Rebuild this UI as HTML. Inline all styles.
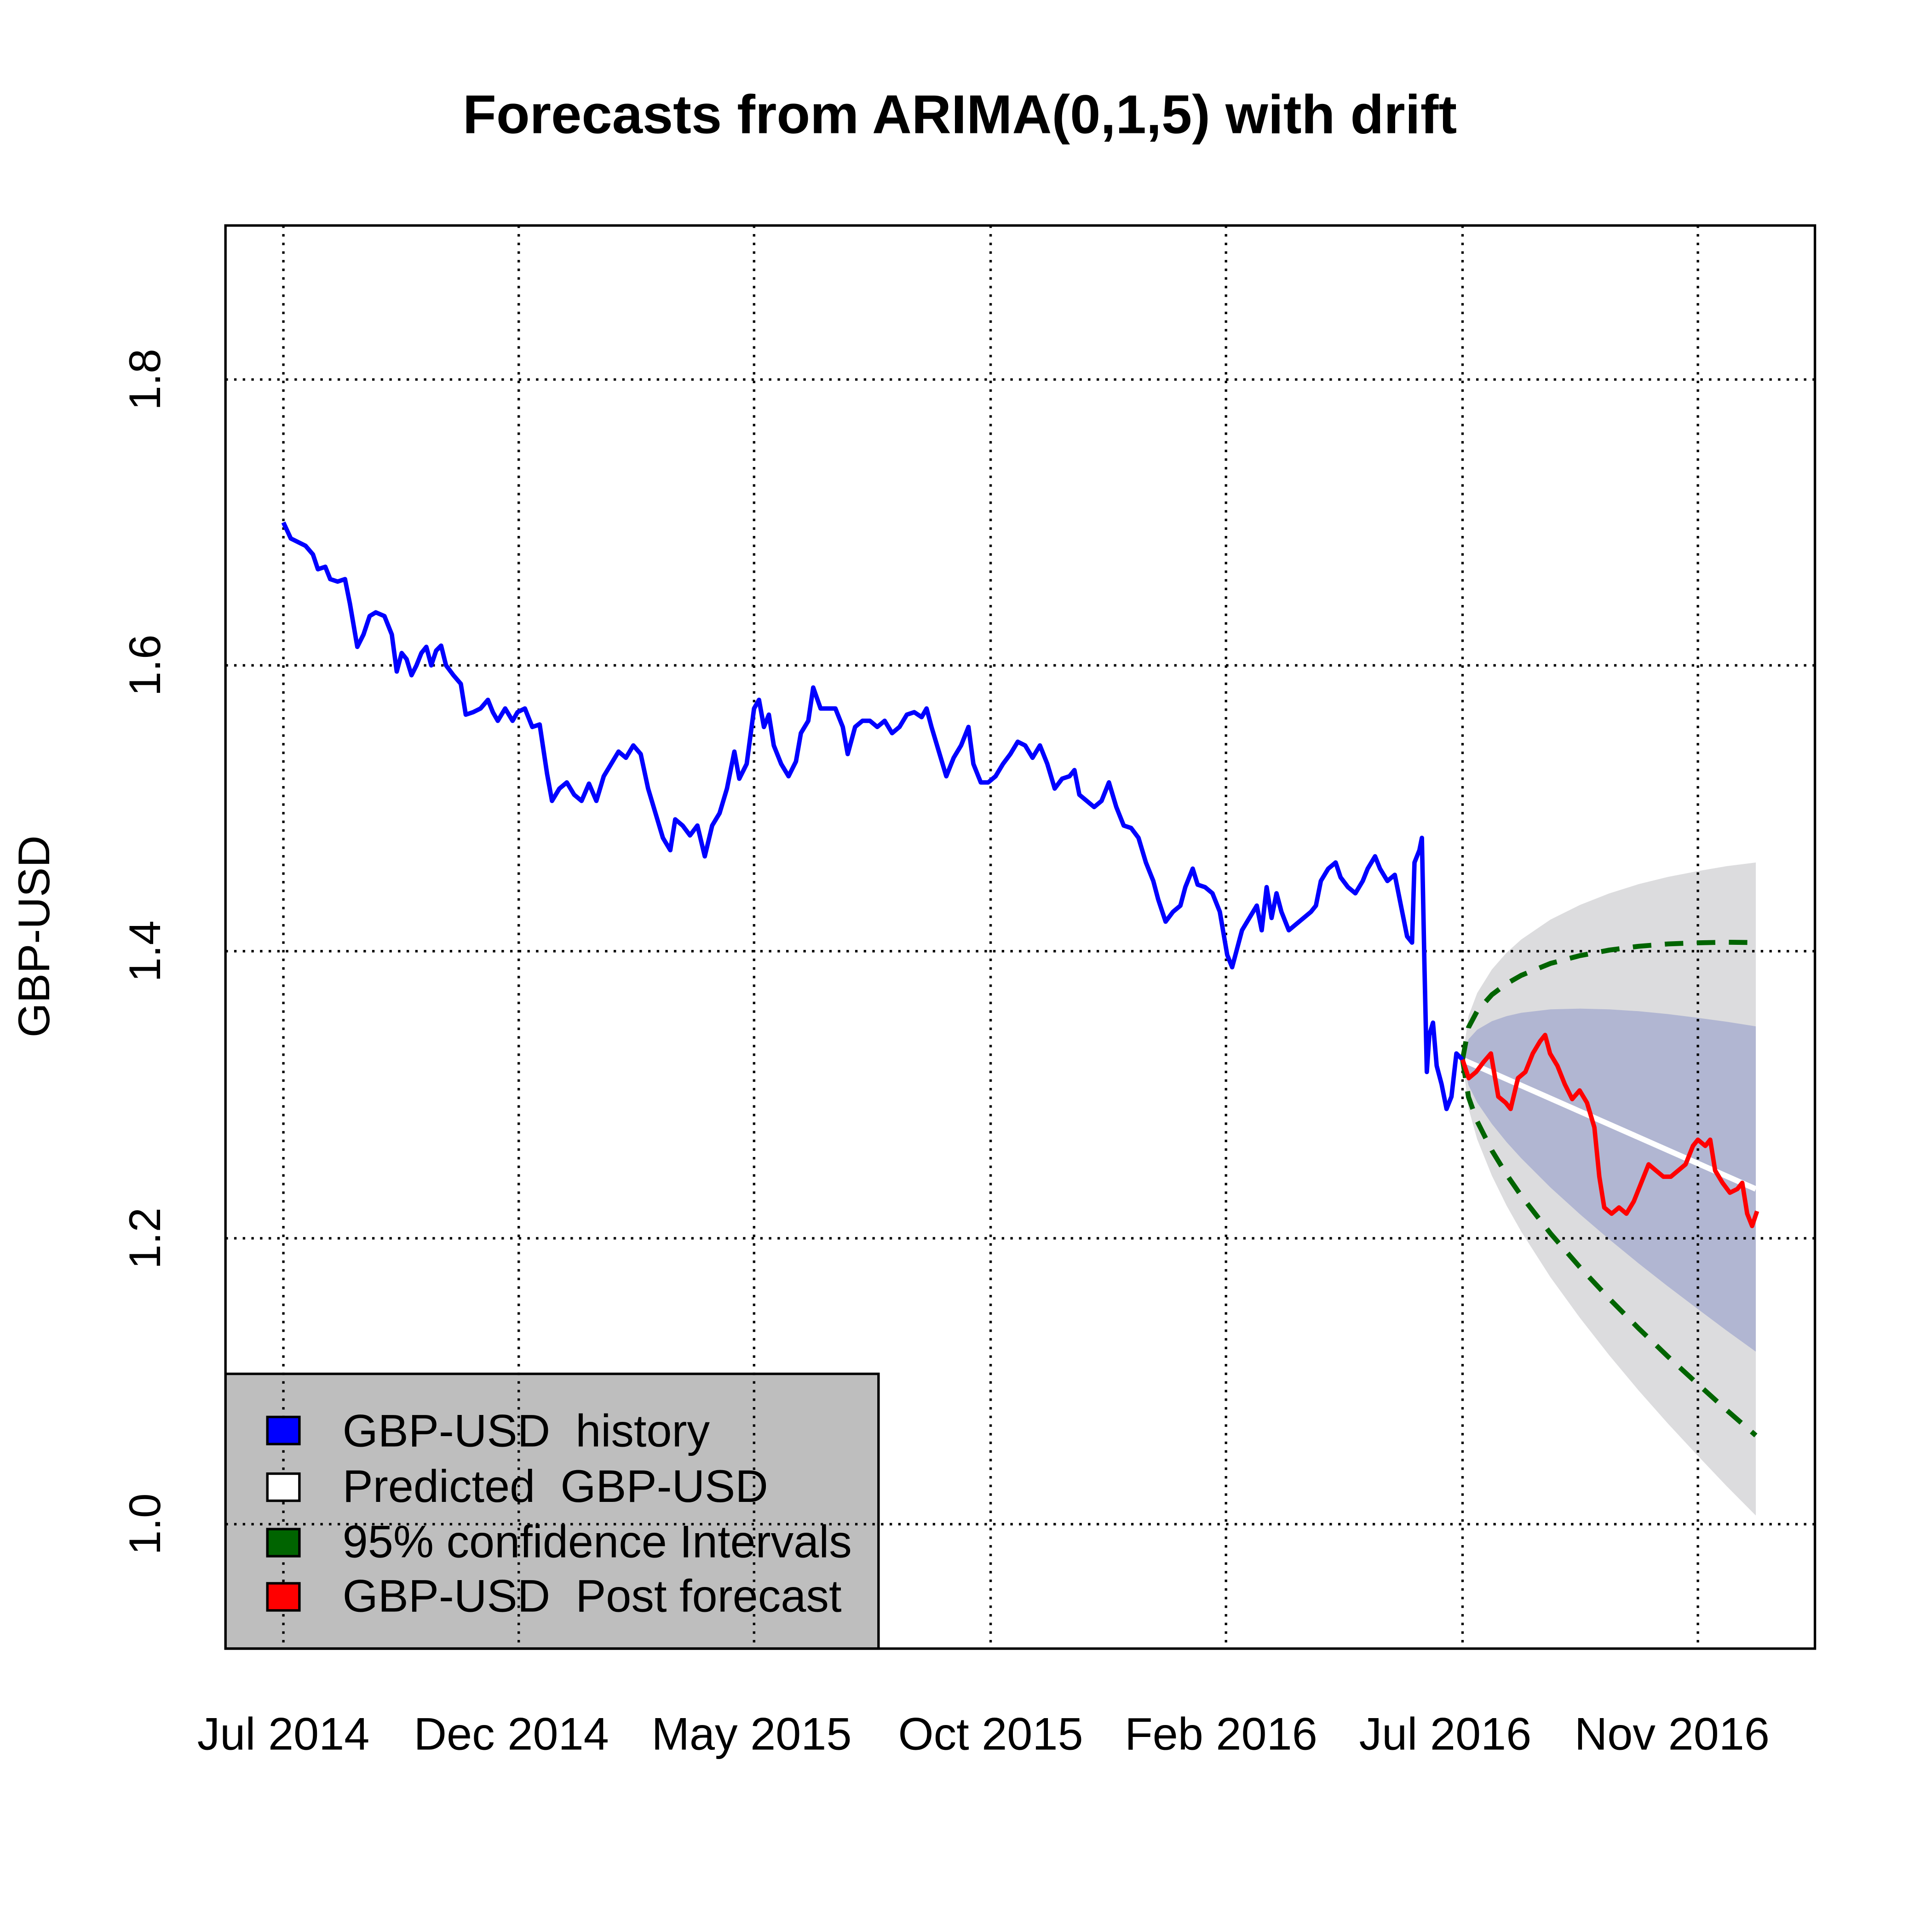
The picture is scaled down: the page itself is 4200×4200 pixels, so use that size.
<!DOCTYPE html>
<html><head><meta charset="utf-8"><style>html,body{margin:0;padding:0;background:#fff}svg{display:block}</style></head>
<body>
<svg xmlns="http://www.w3.org/2000/svg" width="4200" height="4200" viewBox="0 0 1568 1568" font-family="Liberation Sans, Arial, sans-serif">
<rect width="1568" height="1568" fill="#fff"/>
<text x="779" y="108" font-size="44.5" font-weight="bold" text-anchor="middle">Forecasts from ARIMA(0,1,5) with drift</text>
<polygon fill="#dcdcde" points="1187,860 1191.8,824.7 1198.9,805.9 1210.8,786.8 1222.7,773.2 1234.6,762.5 1258.4,746.3 1282.2,734.5 1306,725.1 1329.8,717.6 1353.6,711.7 1377.4,707.1 1401.2,703 1425,700 1425,1230 1401.2,1206 1377.4,1180.9 1353.6,1155.3 1329.8,1128.4 1306,1099.9 1282.2,1069.5 1258.4,1036.7 1234.6,999.5 1222.7,978.4 1210.8,954.2 1198.9,924.7 1191.8,899.5"/>
<polygon fill="#b1b6d2" points="1187,860 1191.8,843.5 1198.9,835.7 1210.8,828.8 1222.7,824.7 1234.6,822 1258.4,819.2 1282.2,818.6 1306,819.2 1329.8,820.7 1353.6,823 1377.4,826 1401.2,829.2 1425,833 1425,1097 1401.2,1079.8 1377.4,1062 1353.6,1044 1329.8,1025.3 1306,1005.8 1282.2,985.4 1258.4,963.8 1234.6,940 1222.7,926.9 1210.8,912.2 1198.9,894.9 1191.8,880.7"/>
<rect x="183" y="1115" width="530" height="223" fill="#bebebe" stroke="#000" stroke-width="2"/>
<g stroke="#000" stroke-width="2" stroke-dasharray="2,5" fill="none">
<line x1="183" y1="308" x2="1473" y2="308"/><line x1="183" y1="540" x2="1473" y2="540"/><line x1="183" y1="772" x2="1473" y2="772"/><line x1="183" y1="1005" x2="1473" y2="1005"/><line x1="183" y1="1237" x2="1473" y2="1237"/>
<line x1="230" y1="183" x2="230" y2="1338"/><line x1="421" y1="183" x2="421" y2="1338"/><line x1="612" y1="183" x2="612" y2="1338"/><line x1="804" y1="183" x2="804" y2="1338"/><line x1="995" y1="183" x2="995" y2="1338"/><line x1="1187" y1="183" x2="1187" y2="1338"/><line x1="1378" y1="183" x2="1378" y2="1338"/>
</g>
<line x1="1187" y1="860" x2="1425" y2="965" stroke="#fff" stroke-width="4.5"/>
<g stroke="#006400" stroke-width="4" stroke-dasharray="15,11" fill="none">
<polyline points="1187,860 1191.8,833.9 1198.9,820.5 1210.8,807.3 1222.7,798.4 1234.6,791.6 1258.4,781.9 1282.2,775.6 1306,771.1 1329.8,768 1353.6,766.1 1377.4,765.2 1401.2,764.7 1425,765"/>
<polyline points="1187,860 1191.8,890.3 1198.9,910.1 1210.8,933.7 1222.7,953.2 1234.6,970.4 1258.4,1001.1 1282.2,1028.4 1306,1053.9 1329.8,1078 1353.6,1100.9 1377.4,1122.8 1401.2,1144.3 1425,1165"/>
</g>
<polyline fill="none" stroke="#0000ff" stroke-width="3.6" stroke-linejoin="round" points="230,424 236,437 242,440 248,443 254,450 258,462 264,460 268,470 274,472 280,470 284,490 290,525 295,515 300,500 305,497 312,500 318,515 322,545 326,530 330,535 334,548 338,540 342,530 346,525 350,540 354,528 358,524 362,540 368,548 374,555 378,580 384,578 390,575 396,568 400,578 404,585 410,575 416,585 420,578 426,575 432,590 438,588 444,628 448,650 454,640 460,635 466,645 472,650 478,636 484,650 490,630 496,620 502,610 508,615 514,605 520,612 526,640 532,660 538,680 544,690 548,665 554,670 560,678 566,670 572,695 578,670 584,660 590,640 596,610 600,632 606,620 612,575 616,568 620,590 624,580 628,605 634,620 640,630 646,618 650,595 656,585 660,558 666,575 672,575 678,575 684,590 688,612 694,590 700,585 706,585 712,590 718,585 724,595 730,590 736,580 742,578 748,582 752,575 756,590 762,610 768,630 774,615 780,605 786,590 790,620 796,635 802,635 808,630 814,620 820,612 826,602 832,605 838,615 844,605 850,620 856,640 862,632 868,630 872,625 876,645 882,650 888,655 894,650 900,635 906,655 912,670 918,672 924,680 930,700 936,715 940,730 946,748 952,740 958,735 962,720 968,705 972,718 978,720 984,725 990,740 996,775 1000,785 1004,770 1008,755 1014,745 1020,735 1024,755 1028,720 1032,745 1036,725 1040,740 1046,755 1052,750 1058,745 1064,740 1068,735 1072,715 1078,705 1084,700 1088,712 1094,720 1100,725 1106,715 1110,705 1116,695 1120,705 1126,715 1132,710 1138,740 1142,760 1146,765 1148,700 1152,690 1154,680 1156,780 1158,870 1160,840 1163,830 1166,865 1170,880 1174,900 1178,890 1182,855 1187,860"/>
<polyline fill="none" stroke="#ff0000" stroke-width="3.6" stroke-linejoin="round" points="1187,860 1192,875 1198,870 1204,862 1210,855 1216,890 1222,895 1226,900 1232,875 1238,870 1244,855 1250,845 1254,840 1258,855 1264,865 1270,880 1276,892 1282,885 1288,895 1294,915 1298,955 1302,980 1308,985 1314,980 1320,985 1326,975 1332,960 1338,945 1344,950 1350,955 1356,955 1362,950 1368,945 1374,930 1378,925 1384,930 1388,925 1392,950 1398,960 1404,968 1410,965 1414,960 1418,985 1422,995 1426,983"/>
<rect x="183" y="183" width="1290" height="1155" fill="none" stroke="#000" stroke-width="2"/>
<g stroke="#000" stroke-width="2">
<rect x="217" y="1150" width="26" height="22" fill="#0000ff"/>
<rect x="217" y="1196" width="26" height="22" fill="#fff"/>
<rect x="217" y="1241" width="26" height="22" fill="#006400"/>
<rect x="217" y="1285" width="26" height="22" fill="#ff0000"/>
</g>
<g font-size="37">
<text x="278" y="1174">GBP-USD&#160; history</text>
<text x="278" y="1219">Predicted&#160; GBP-USD</text>
<text x="278" y="1264">95% confidence Intervals</text>
<text x="278" y="1308">GBP-USD&#160; Post forecast</text>
</g>
<g font-size="36" text-anchor="middle">
<text transform="translate(130,308) rotate(-90)">1.8</text>
<text transform="translate(130,540) rotate(-90)">1.6</text>
<text transform="translate(130,772) rotate(-90)">1.4</text>
<text transform="translate(130,1005) rotate(-90)">1.2</text>
<text transform="translate(130,1237) rotate(-90)">1.0</text>
<text transform="translate(40,760) rotate(-90)">GBP-USD</text>
</g>
<g font-size="37" text-anchor="middle">
<text x="230" y="1420">Jul 2014</text>
<text x="415" y="1420">Dec 2014</text>
<text x="610" y="1420">May 2015</text>
<text x="804" y="1420">Oct 2015</text>
<text x="991" y="1420">Feb 2016</text>
<text x="1173" y="1420">Jul 2016</text>
<text x="1357" y="1420">Nov 2016</text>
</g>
</svg>
</body></html>
